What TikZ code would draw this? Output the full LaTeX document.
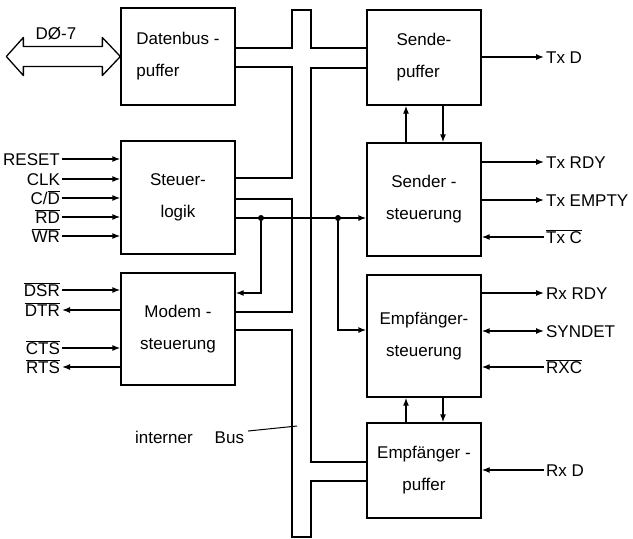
\documentclass[tikz,border=0pt]{standalone}
\usepackage{fontspec}
\setmainfont{Liberation Sans}
\usetikzlibrary{arrows.meta}

\begin{document}
\begin{tikzpicture}[
                x=1pt, y=-1pt,
                line width=1.3pt,
                every node/.style={font=\fontsize{17}{32}\selectfont},
                block/.style={draw,minimum width=114pt,align=center,inner sep=0pt},
                sig/.style={text height=12pt,text depth=0pt,inner sep=1.5pt},
                arr/.style={-{Latex[length=8pt,width=6pt]}},
                arrboth/.style={{Latex[length=8pt,width=6pt]}-{Latex[length=8pt,width=6pt]}},
                junction/.style={circle,fill,inner sep=0pt,minimum size=6pt}
            ]
            \useasboundingbox (0,0) rectangle (633,539);

            \node[block,minimum height=97pt,align=left] (dbp) at (178,56.5) {Datenbus -\\puffer};
            \node[block,minimum height=113pt] (sl) at (178,197.5) {Steuer-\\logik};
            \node[block,minimum height=112pt] (ms) at (178,329) {Modem -\\steuerung};

            \node[block,minimum height=95pt,align=left] (sp) at (424,57.5) {Sende-\\puffer};
            \node[block,minimum height=113pt] (ss) at (424,199.5) {Sender -\\steuerung};
            \node[block,minimum height=122pt] (es) at (424,336) {Empfänger-\\steuerung};
            \node[block,minimum height=95pt] (ep) at (424,470.5) {Empfänger -\\puffer};

            \draw[line join=round] (dbp.west) -- ++(-18,-19) -- ++(0,9) -- ++(-79,0) -- ++(0,-9)
                -- ++(-17,19) -- ++(17,19) -- ++(0,-9) -- ++(79,0) -- ++(0,9) -- cycle;
            \node (dbus) at (56,34) {DØ-7};

            \draw (dbp.east |- 0,48) -- (292,48) -- (292,10) -- (311,10) -- (311,48) -- (sp.west |- 0,48);
            \draw (dbp.east |- 0,67) -- (292,67) -- (292,178) -- (sl.east |- 0,178);
            \draw (sl.east |- 0,199) -- (292,199) -- (292,312) -- (ms.east |- 0,312);
            \draw (ms.east |- 0,330) -- (292,330) -- (292,537) -- (311,537) -- (311,481) -- (ep.west |- 0,481);
            \draw (sp.west |- 0,68) -- (311,68) -- (311,462) -- (ep.west |- 0,462);

            \node[junction] (j1) at (261,218) {};
            \node[junction] (j2) at (338,218) {};
            \draw[arr] (sl.east |- j1) -- (ss.west |- j1);
            \draw[arr] (j1.center) |- (ms.east |- 0,293);
            \draw[arr] (j2.center) |- (es.west |- 0,330);

            \draw[arr] ([xshift=-18pt]ss.north) -- ([xshift=-18pt]sp.south);
            \draw[arr] ([xshift=19pt]sp.south) -- ([xshift=19pt]ss.north);
            \draw[arr] ([xshift=-18pt]ep.north) -- ([xshift=-18pt]es.south);
            \draw[arr] ([xshift=19pt]es.south) -- ([xshift=19pt]ep.north);

            \node[sig,anchor=east] (reset) at (62,159) {RESET};
            \node[sig,anchor=east] (clk) at (62,179) {CLK};
            \node[sig,anchor=east] (cd) at (62,198) {C/\(\overline{\mbox{D}}\)};
            \node[sig,anchor=east] (rd) at (62,217) {\(\overline{\mbox{RD}}\)};
            \node[sig,anchor=east] (wr) at (62,236) {\(\overline{\mbox{WR}}\)};
            \draw[arr] (reset) -- (reset -| sl.west);
            \draw[arr] (clk) -- (clk -| sl.west);
            \draw[arr] (cd) -- (cd -| sl.west);
            \draw[arr] (rd) -- (rd -| sl.west);
            \draw[arr] (wr) -- (wr -| sl.west);

            \node[sig,anchor=east] (dsr) at (62,290) {\(\overline{\mbox{DSR}}\)};
            \node[sig,anchor=east] (dtr) at (62,310) {\(\overline{\mbox{DTR}}\)};
            \node[sig,anchor=east] (cts) at (62,348) {\(\overline{\mbox{CTS}}\)};
            \node[sig,anchor=east] (rts) at (62,367) {\(\overline{\mbox{RTS}}\)};
            \draw[arr] (dsr) -- (dsr -| ms.west);
            \draw[arr] (dtr -| ms.west) -- (dtr);
            \draw[arr] (cts) -- (cts -| ms.west);
            \draw[arr] (rts -| ms.west) -- (rts);

            \node[sig,anchor=west] (txd) at (544,57) {Tx D};
            \node[sig,anchor=west] (txrdy) at (544,162) {Tx RDY};
            \node[sig,anchor=west] (txempty) at (544,200) {Tx EMPTY};
            \node[sig,anchor=west] (txc) at (544,237) {\(\overline{\mbox{Tx C}}\)};
            \node[sig,anchor=west] (rxrdy) at (544,293) {Rx RDY};
            \node[sig,anchor=west] (syndet) at (544,331) {SYNDET};
            \node[sig,anchor=west] (rxc) at (544,367) {\(\overline{\mbox{RXC}}\)};
            \node[sig,anchor=west] (rxd) at (544,470) {Rx D};
            \draw[arr] (txd -| sp.east) -- (txd);
            \draw[arr] (txrdy -| ss.east) -- (txrdy);
            \draw[arr] (txempty -| ss.east) -- (txempty);
            \draw[arr] (txc) -- (txc -| ss.east);
            \draw[arr] (rxrdy -| es.east) -- (rxrdy);
            \draw[arrboth] (syndet -| es.east) -- (syndet);
            \draw[arr] (rxc) -- (rxc -| es.east);
            \draw[arr] (rxd) -- (rxd -| ep.east);

            \node[anchor=east] (ibus) at (248,437) {interner\hspace{22pt}Bus};
            \coordinate (busp) at (297,426);
            \draw[line width=1pt] (ibus) -- (busp);

        \end{tikzpicture}
\end{document}
